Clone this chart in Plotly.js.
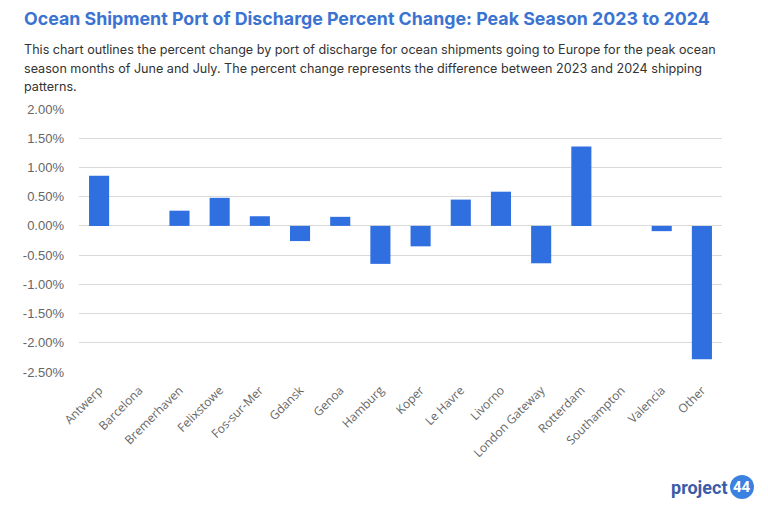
<!DOCTYPE html>
<html>
<head>
<meta charset="utf-8">
<script src="https://cdn.plot.ly/plotly-3.0.1.min.js"></script>
<style>html,body{margin:0;padding:0;background:#fff;}#chart{width:768px;height:515px;}</style>
</head>
<body>
<div id="chart"></div>
<script>
const ports = ["Antwerp","Barcelona","Bremerhaven","Felixstowe","Fos-sur-Mer","Gdansk","Genoa","Hamburg","Koper","Le Havre","Livorno","London Gateway","Rotterdam","Southampton","Valencia","Other"];
const pctChange = [0.86, 0, 0.26, 0.48, 0.165, -0.26, 0.155, -0.65, -0.35, 0.45, 0.585, -0.64, 1.36, 0, -0.09, -2.28];
const yTickVals = [2.0, 1.5, 1.0, 0.5, 0.0, -0.5, -1.0, -1.5, -2.0, -2.5];
const yTickText = ["2.00%","1.50%","1.00%","0.50%","0.00%","-0.50%","-1.00%","-1.50%","-2.00%","-2.50%"];
const subtitleLines = [
  "This chart outlines the percent change by port of discharge for ocean shipments going to Europe for the peak ocean",
  "season months of June and July. The percent change represents the difference between 2023 and 2024 shipping",
  "patterns."
];

const trace = {
  type: "bar",
  x: ports,
  y: pctChange,
  marker: {color: "#2f6fe0"},
  hoverinfo: "x+y"
};

const L = 79, PW = 643, B = 143, PH = 263;
const px = v => (v - L) / PW;
const py = v => (515 - B - v) / PH;

const annotations = [
  {xref: "paper", yref: "paper", xanchor: "left", yanchor: "middle", showarrow: false,
   x: px(22), y: py(19),
   text: "<b>Ocean Shipment Port of Discharge Percent Change: Peak Season 2023 to 2024</b>",
   font: {family: "Inter, sans-serif", size: 17.8, color: "#3b73d1"}},
  {xref: "paper", yref: "paper", xanchor: "right", yanchor: "middle", showarrow: false,
   x: px(729), y: py(487),
   text: "<b>project</b>",
   font: {family: "Roboto, sans-serif", size: 18, color: "#3a5ca8"}},
  {xref: "paper", yref: "paper", xanchor: "center", yanchor: "middle", showarrow: false,
   x: px(742), y: py(487),
   text: "<b>44</b>",
   font: {family: "Roboto, sans-serif", size: 15, color: "#fff"}}
];
const lineY = [49, 68, 87];
subtitleLines.forEach((t, i) => annotations.push({
  xref: "paper", yref: "paper", xanchor: "left", yanchor: "middle", showarrow: false, align: "left",
  x: px(22), y: py(lineY[i]), text: t,
  font: {family: "Inter, sans-serif", size: 12.6, color: "#333"}
}));

const layout = {
  width: 768, height: 515,
  margin: {l: L, r: 46, t: 109, b: B},
  paper_bgcolor: "#fff", plot_bgcolor: "#fff",
  bargap: 0.5,
  showlegend: false,
  xaxis: {
    tickangle: -45,
    tickfont: {family: "Open Sans, sans-serif", size: 12, color: "#666"},
    showgrid: false, showline: false, ticks: "", zeroline: false,
    ticklabelstandoff: 8
  },
  yaxis: {
    range: [-2.5, 2.0],
    tickvals: yTickVals, ticktext: yTickText,
    tickfont: {family: "Liberation Sans, Arial, sans-serif", size: 13, color: "#666"},
    gridcolor: "#d9d9d9", gridwidth: 1,
    zeroline: true, zerolinecolor: "#d9d9d9", zerolinewidth: 1,
    showline: false, ticks: "", ticklen: 0,
    ticklabelstandoff: 14
  },
  annotations: annotations,
  shapes: [
    {type: "circle", xref: "paper", yref: "paper",
     x0: px(730), x1: px(754), y0: py(499), y1: py(475),
     fillcolor: "#3b82e0", line: {width: 0}, layer: "below"}
  ]
};

Plotly.newPlot("chart", [trace], layout, {displayModeBar: false, staticPlot: true});
</script>
</body>
</html>
